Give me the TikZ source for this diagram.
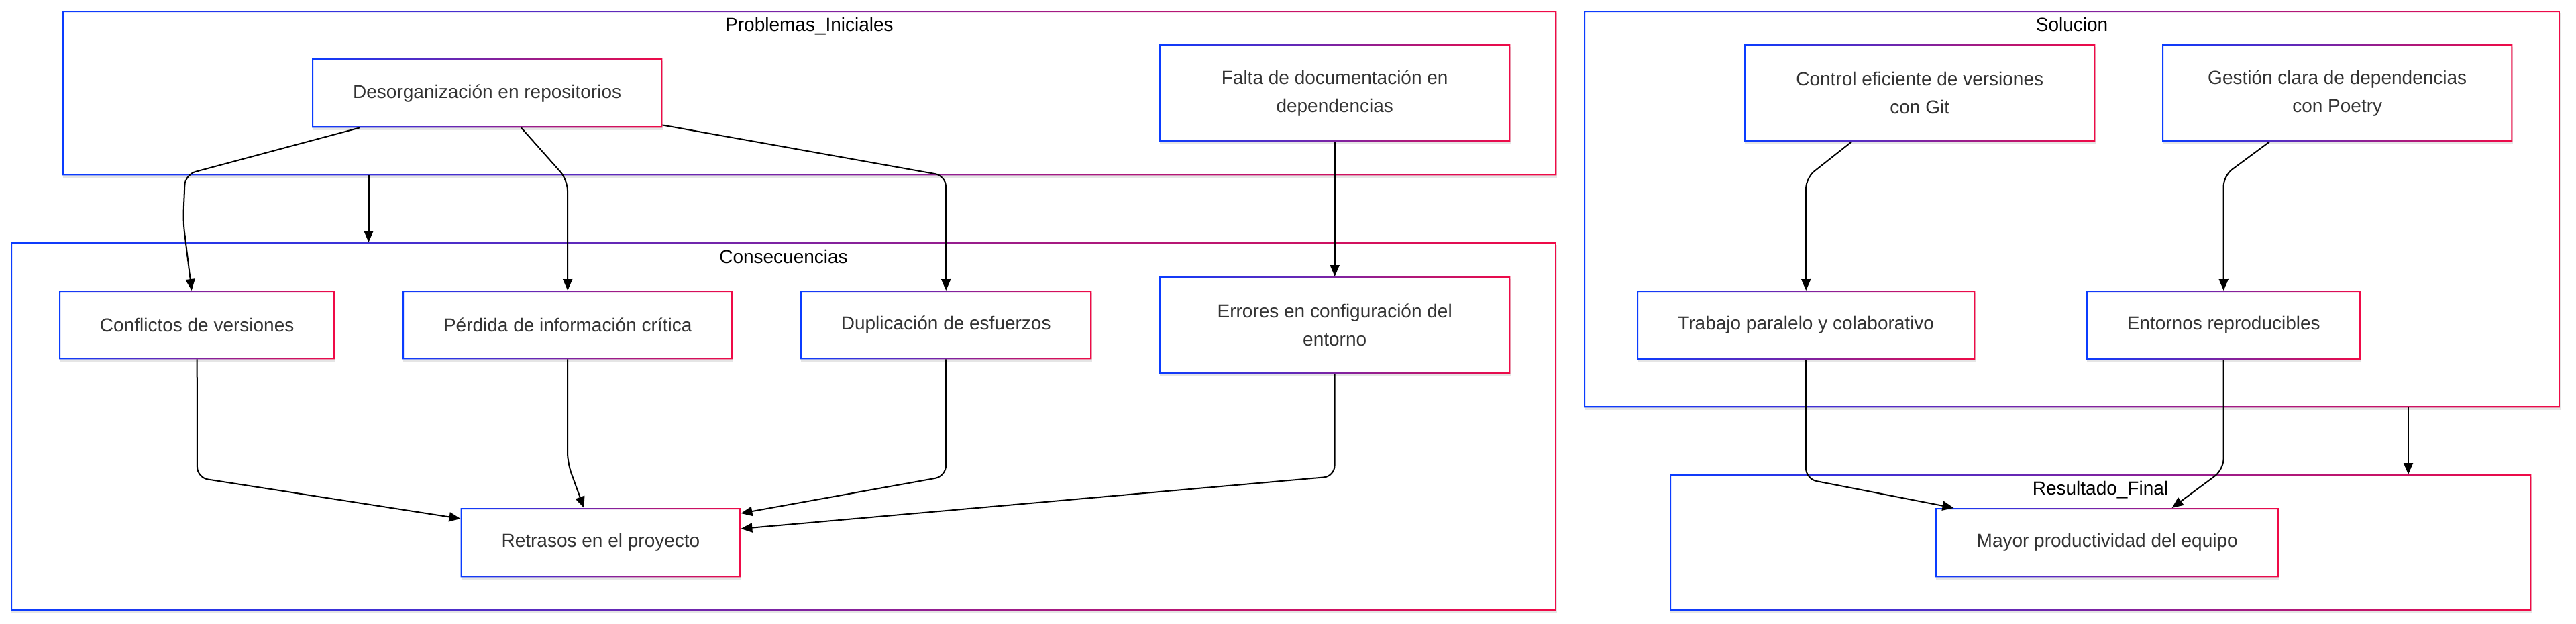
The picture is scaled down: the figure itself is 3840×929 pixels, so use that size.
\documentclass[tikz,border=0pt]{standalone}
\usepackage{fontspec}
\setmainfont{Liberation Sans}
\usetikzlibrary{arrows.meta,shadows}
\definecolor{gblue}{RGB}{10,60,255}
\definecolor{gred}{RGB}{240,10,70}
\definecolor{txt}{RGB}{51,51,51}
\newcommand\gframe[1]{\shade[left color=gblue,right color=gred,even odd rule]
  (#1.south west) rectangle (#1.north east)
  ([shift={(2.2pt,2.2pt)}]#1.south west) rectangle ([shift={(-2.2pt,-2.2pt)}]#1.north east);}
\tikzset{
  basebox/.style={rectangle, inner sep=0pt, fill=white, anchor=north west,
    drop shadow={shadow xshift=1pt, shadow yshift=-4pt, opacity=0.1, fill=black}},
  box/.style={basebox, text=txt, align=center, font=\fontsize{28}{42}\selectfont},
  clus/.style={basebox},
  clabel/.style={anchor=base, text=black, font=\fontsize{28}{42}\selectfont},
  edge/.style={draw=black, line width=2pt, rounded corners=16pt,
    -{Triangle[length=17pt,width=14pt]}}
}
\begin{document}
\begin{tikzpicture}[x=1pt,y=-1pt]
\useasboundingbox[fill=white] (0,0) rectangle (3840,929);
% clusters
\node[clus, minimum width=2227pt, minimum height=245pt] (prob) at (93,16) {};
\gframe{prob}
\node[clus, minimum width=2304pt, minimum height=549pt] (cons) at (16,361) {};
\gframe{cons}
\node[clus, minimum width=1455pt, minimum height=591pt] (sol) at (2361,16) {};
\gframe{sol}
\node[clus, minimum width=1284pt, minimum height=203pt] (res) at (2489,707) {};
\gframe{res}
\node[clabel] (lprob) at (1206.5,46) {Problemas\_Iniciales};
\node[clabel] (lcons) at (1168,392.5) {Consecuencias};
\node[clabel] (lsol) at (3088.5,46) {Solucion};
\node[clabel] (lres) at (3131,737) {Resultado\_Final};
% nodes
\node[box, minimum width=522pt, minimum height=103pt] (desorg) at (465,87) {Desorganización en repositorios};
\node[box, minimum width=523pt, minimum height=145pt] (falta) at (1728,66) {Falta de documentación en\\dependencias};
\node[box, minimum width=411pt, minimum height=102pt] (conf) at (88,433) {Conflictos de versiones};
\node[box, minimum width=492pt, minimum height=102pt] (perd) at (600,433) {Pérdida de información crítica};
\node[box, minimum width=434pt, minimum height=102pt] (dup) at (1193,433) {Duplicación de esfuerzos};
\node[box, minimum width=523pt, minimum height=145pt] (err) at (1728,412) {Errores en configuración del\\entorno};
\node[box, minimum width=417.5pt, minimum height=103pt] (retr) at (686.5,757) {Retrasos en el proyecto};
\node[box, minimum width=523pt, minimum height=145pt] (ctrl) at (2600,66) {Control eficiente de versiones\\con Git};
\node[box, minimum width=522pt, minimum height=145pt] (gest) at (3223,66) {Gestión clara de dependencias\\con Poetry};
\node[box, minimum width=504pt, minimum height=103pt] (trab) at (2440,433) {Trabajo paralelo y colaborativo};
\node[box, minimum width=409pt, minimum height=103pt] (ent) at (3110,433) {Entornos reproducibles};
\node[box, minimum width=512pt, minimum height=103pt] (mayor) at (2885,757) {Mayor productividad del equipo};
\foreach \n in {desorg,falta,conf,perd,dup,err,retr,ctrl,gest,trab,ent,mayor}{\gframe{\n}}
% edges
\draw[edge] ([xshift=71pt]desorg.south west) -- (276,260) -- (273,330) -- ([xshift=-8pt]conf.north);
\draw[edge] ([xshift=312pt]desorg.south west) -- (846,268) -- (perd.north);
\draw[edge] ([yshift=4pt]desorg.south east) -- (1410,262) -- (dup.north);
\draw[edge] ([xshift=456.5pt]prob.south west) -- ([xshift=533.5pt]cons.north west);
\draw[edge] (falta.south) -- (err.north);
\draw[edge] (conf.south) -- (294,712) -- ([yshift=-16pt]retr.north west);
\draw[edge] (perd.south) -- (846,690) -- ([xshift=-25pt]retr.north);
\draw[edge] (dup.south) -- (1410,710) -- ([yshift=-8pt]retr.north east);
\draw[edge] (err.south) -- (1989.5,710) -- ([yshift=-31pt]retr.north east);
\draw[edge] ([xshift=160pt]ctrl.south west) -- (2692,265) -- (trab.north);
\draw[edge] ([xshift=160pt]gest.south west) -- (3314.5,262) -- (ent.north);
\draw[edge] (trab.south) -- (2692,714) -- ([xshift=27.5pt]mayor.north west);
\draw[edge] (ent.south) -- (3314.5,700) -- ([xshift=352.6pt]mayor.north west);
\draw[edge] ([xshift=1229pt]sol.south west) -- ([xshift=1101pt]res.north west);
\end{tikzpicture}
\end{document}
